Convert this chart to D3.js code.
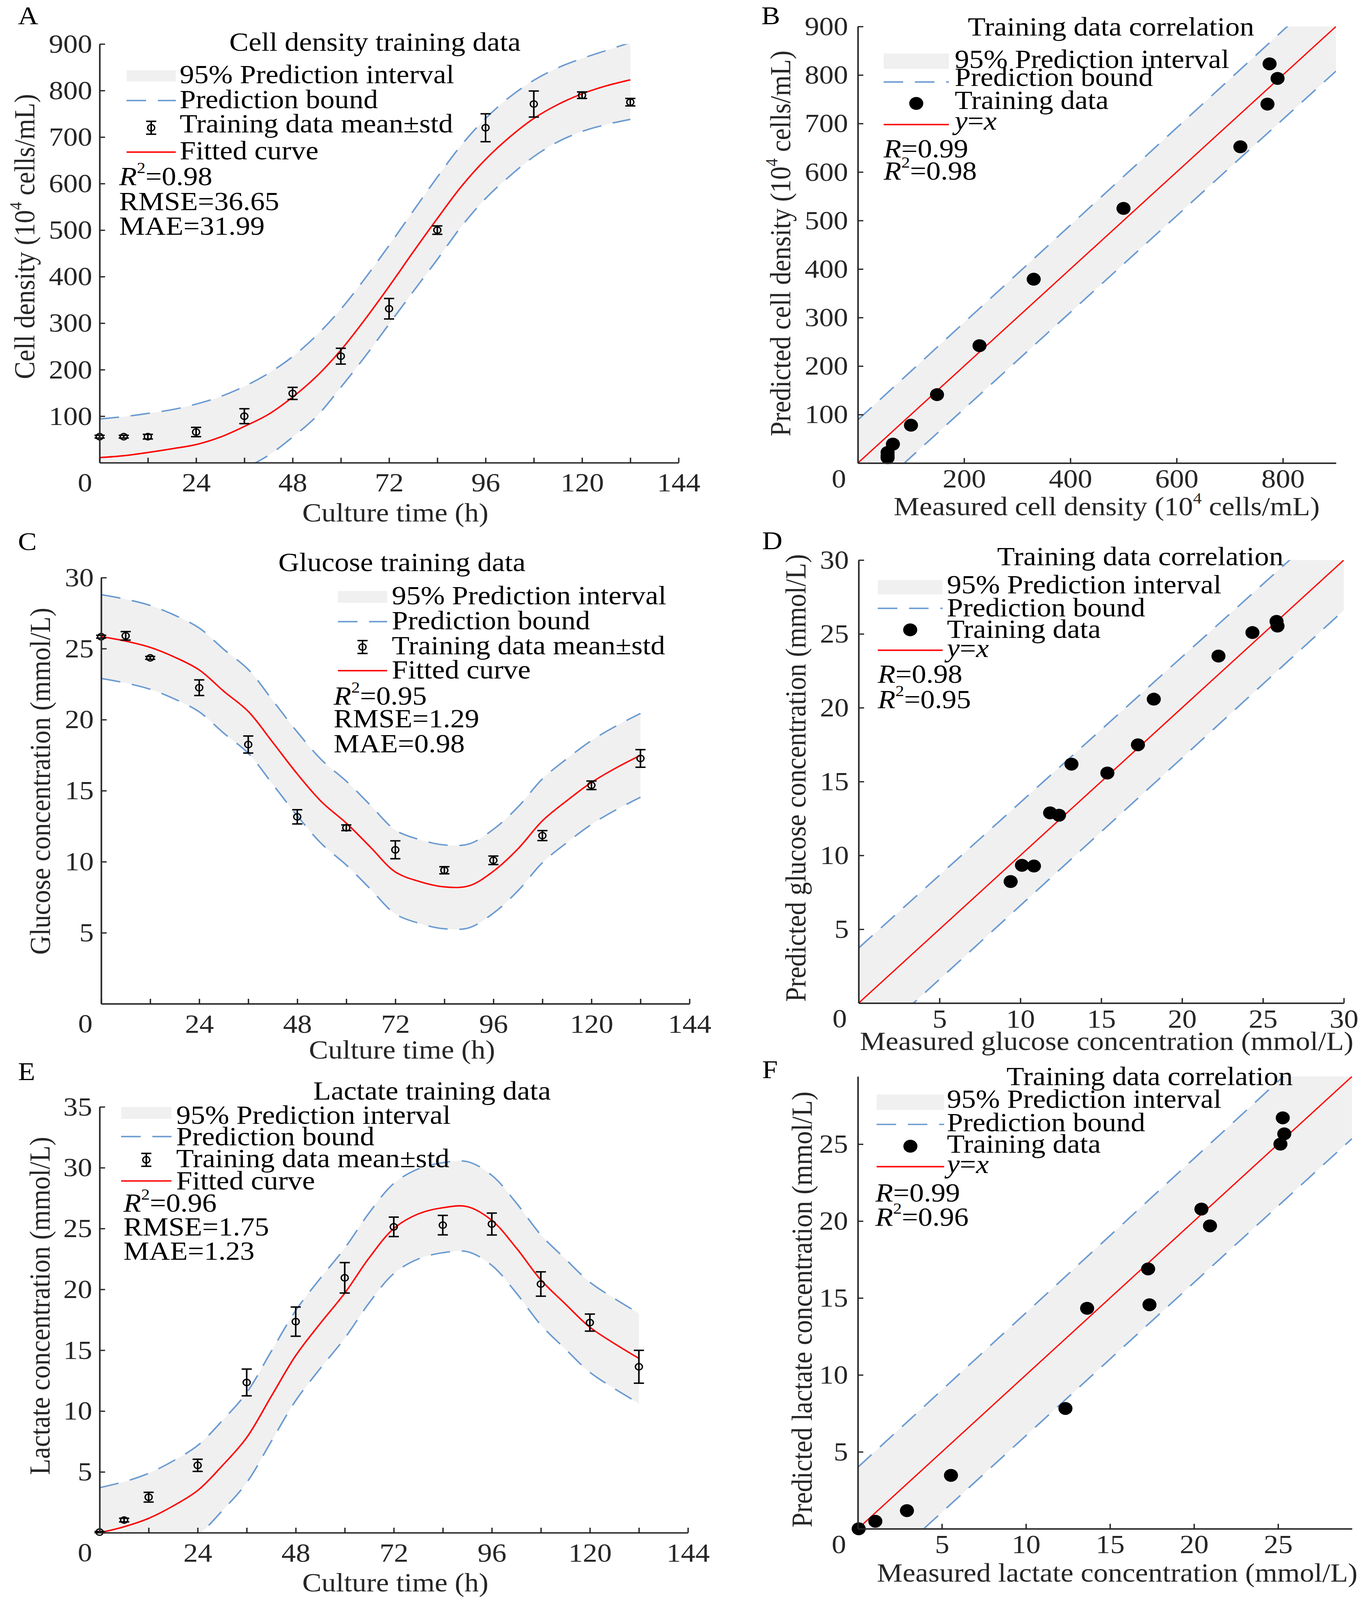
<!DOCTYPE html>
<html>
<head>
<meta charset="utf-8">
<script src="https://cdn.jsdelivr.net/npm/d3@7"></script>
<style>
  html, body { margin: 0; padding: 0; background: #fff; overflow: hidden; }
  svg { display: block; width: 100vw; height: 100vh; }
</style>
</head>
<body>
<svg id="fig" viewBox="0 0 3484 4471" preserveAspectRatio="none"></svg>
<script>
// ---------------------------------------------------------------
//  Data
// ---------------------------------------------------------------

const sampleHours = [0, 6, 12, 24, 36, 48, 60, 72, 84, 96, 108, 120, 132];
const curveHours = [0, 6, 12, 18, 24, 30, 36, 42, 48, 54, 60, 66, 72, 78, 84, 90, 96, 102, 108, 114, 120, 126, 132];

// Cell density (10^4 cells/mL)
const cellMean = [56, 56, 56, 66, 100, 149, 229, 331, 500, 720, 771, 790, 775];
const cellStd = [3, 3, 5, 10, 16, 13, 17, 22, 9, 30, 28, 7, 8];
const cellFit = [11, 15, 22, 30, 39, 55, 78, 104, 141, 186, 242, 308, 379, 453, 525, 594, 652, 700, 740, 770, 793, 810, 823];
const cellUpper = [94, 99, 106, 114, 126, 142, 164, 192, 228, 274, 330, 396, 467, 541, 614, 683, 740, 786, 822, 849, 869, 886, 903];
const cellLower = [-77, -72, -65, -56, -46, -32, -12, 16, 55, 100, 162, 228, 298, 368, 437, 508, 568, 616, 658, 690, 712, 727, 738];
const cellPred = [11, 15, 22, 39, 78, 141, 242, 379, 525, 652, 740, 793, 823];
const cellBandX = [0, 900];
const cellBandUpper = [89, 992];
const cellBandLower = [-87, 808];

// Glucose (mmol/L)
const glcMean = [25.84, 25.9, 24.35, 22.25, 18.25, 13.16, 12.39, 10.84, 9.4, 10.1, 11.84, 15.38, 17.27];
const glcStd = [0.1, 0.3, 0.1, 0.55, 0.6, 0.5, 0.2, 0.63, 0.25, 0.3, 0.35, 0.3, 0.62];
const glcFit = [25.85, 25.53, 25.09, 24.4, 23.5, 22.0, 20.58, 18.4, 16.18, 14.2, 12.72, 11.0, 9.28, 8.6, 8.23, 8.3, 9.33, 10.9, 12.88, 14.3, 15.58, 16.6, 17.49];
const glcUpper = [28.8, 28.48, 28.04, 27.35, 26.45, 24.95, 23.53, 21.35, 19.13, 17.15, 15.67, 13.95, 12.23, 11.55, 11.18, 11.25, 12.28, 13.85, 15.83, 17.25, 18.53, 19.55, 20.44];
const glcLower = [22.9, 22.58, 22.14, 21.45, 20.55, 19.05, 17.63, 15.45, 13.23, 11.25, 9.77, 8.05, 6.33, 5.65, 5.28, 5.35, 6.38, 7.95, 9.93, 11.35, 12.63, 13.65, 14.54];
const glcPred = [25.85, 25.53, 25.09, 23.5, 20.58, 16.18, 12.72, 9.28, 8.23, 9.33, 12.88, 15.58, 17.49];
const glcBandX = [0, 30];
const glcBandUpper = [3.73, 33.3];
const glcBandLower = [-3.39, 26.6];

// Lactate (mmol/L)
const lacMean = [0.05, 1.04, 2.92, 5.54, 12.35, 17.35, 20.95, 25.14, 25.28, 25.37, 20.44, 17.27, 13.64];
const lacStd = [0.05, 0.15, 0.4, 0.5, 1.1, 1.2, 1.25, 0.8, 0.8, 0.9, 1.0, 0.7, 1.35];
const lacFit = [0, 0.49, 1.18, 2.2, 3.47, 5.5, 7.82, 11.2, 14.56, 17.2, 19.69, 22.6, 25.0, 26.2, 26.71, 26.8, 25.67, 23.4, 20.78, 18.8, 16.89, 15.55, 14.33];
const lacUpper = [3.7, 4.19, 4.88, 5.9, 7.17, 9.2, 11.52, 14.9, 18.26, 20.9, 23.39, 26.3, 28.7, 29.9, 30.41, 30.5, 29.37, 27.1, 24.48, 22.5, 20.59, 19.25, 18.03];
const lacLower = [-3.7, -3.21, -2.52, -1.5, -0.23, 1.8, 4.12, 7.5, 10.86, 13.5, 15.99, 18.9, 21.3, 22.5, 23.01, 23.1, 21.97, 19.7, 17.08, 15.1, 13.19, 11.85, 10.63];
const lacPred = [0, 0.49, 1.18, 3.47, 7.82, 14.56, 19.69, 25.0, 26.71, 25.67, 20.78, 16.89, 14.33];
const lacBandX = [0, 29.4];
const lacBandUpper = [4.0, 33.5];
const lacBandLower = [-3.9, 25.36];

// Tick labels
const timeTicks = [0, 12, 24, 36, 48, 60, 72, 84, 96, 108, 120, 132, 144];
const timeLabels = [24, 48, 72, 96, 120, 144];

// ---------------------------------------------------------------
//  Styles
// ---------------------------------------------------------------

const FONT = '"Liberation Serif", "Times New Roman", serif';
const FS = 74;
const AXIS = "#262626";
const BAND = "#f0f0f0";
const BOUND = "#6b9bd1";
const RED = "#ff0000";
const DASH = "50,30";

const svg = d3.select("#fig").attr("font-family", FONT);

// Text made of parts: {t, i: italic, sup: superscript}
function richText(g, x, y, parts, opts = {}) {
    let t = g.append("text")
        .attr("x", x).attr("y", y)
        .attr("font-size", opts.size || FS)
        .attr("fill", opts.fill || "#000")
        .attr("text-anchor", opts.anchor || "start");
    if (opts.transform) t.attr("transform", opts.transform);
    let raised = false;
    parts.forEach(p => {
        let s = t.append("tspan").text(p.t);
        if (p.i) s.attr("font-style", "italic");
        if (p.sup) {
            s.attr("font-size", "0.6em").attr("dy", "-0.75em");
            raised = true;
        } else if (raised) {
            s.attr("dy", "0.45em");
            raised = false;
        }
    });
    return t;
}

function yLabel(g, cx, cy, parts) {
    richText(g, 0, 0, parts, { anchor: "middle", fill: AXIS,
        transform: `translate(${cx + 25},${cy}) rotate(-90)` });
}

function styleAxis(sel) {
    sel.attr("font-family", FONT).attr("font-size", FS);
    sel.select(".domain").attr("stroke", AXIS).attr("stroke-width", 4);
    sel.selectAll(".tick line").attr("stroke", AXIS).attr("stroke-width", 3.5);
    sel.selectAll(".tick text").attr("fill", AXIS);
}

// padX: tick-label baseline below the axis, padY: gap left of the axis
function drawAxes(g, p, x, y, xTicks, xFmt, yTicks, padX, padY) {
    g.append("g")
        .attr("transform", `translate(0,${p.bottom})`)
        .call(d3.axisBottom(x).tickValues(xTicks).tickFormat(xFmt)
            .tickSize(-14).tickSizeOuter(0).tickPadding(padX - 52))
        .call(styleAxis);
    g.append("g")
        .attr("transform", `translate(${p.left},0)`)
        .call(d3.axisLeft(y).tickValues(yTicks).tickFormat(d3.format("d"))
            .tickSize(-14).tickSizeOuter(0).tickPadding(padY))
        .call(styleAxis);
    g.append("text").attr("x", p.left - p.zeroGap).attr("y", p.bottom + padX)
        .attr("text-anchor", "end").attr("font-size", FS).attr("fill", AXIS).text("0");
}

function addClip(p) {
    let id = "clip" + p.letter;
    svg.append("clipPath").attr("id", id).append("rect")
        .attr("x", p.left).attr("y", p.top)
        .attr("width", p.right - p.left).attr("height", p.bottom - p.top);
    return `url(#${id})`;
}

function legendCommon(g, L, labels) {
    g.append("rect")
        .attr("x", L.sx0).attr("y", L.sy[0] - L.sh / 2)
        .attr("width", L.sx1 - L.sx0).attr("height", L.sh)
        .attr("fill", BAND);
    g.append("line")
        .attr("x1", L.sx0).attr("x2", L.sx1)
        .attr("y1", L.sy[1]).attr("y2", L.sy[1])
        .attr("stroke", BOUND).attr("stroke-width", 4).attr("stroke-dasharray", DASH);
    g.append("line")
        .attr("x1", L.sx0).attr("x2", L.sx1)
        .attr("y1", L.sy[3]).attr("y2", L.sy[3])
        .attr("stroke", RED).attr("stroke-width", 4);
    labels.forEach((parts, i) => richText(g, L.tx, L.ty[i], parts));
    return (L.sx0 + L.sx1) / 2;
}

function errorMarker(g, cx, cy, top, bot) {
    g.append("line").attr("x1", cx).attr("x2", cx).attr("y1", top).attr("y2", bot)
        .attr("stroke", "#000").attr("stroke-width", 4);
    [top, bot].forEach(v => g.append("line")
        .attr("x1", cx - 13).attr("x2", cx + 13).attr("y1", v).attr("y2", v)
        .attr("stroke", "#000").attr("stroke-width", 4));
    g.append("circle").attr("cx", cx).attr("cy", cy).attr("r", 9)
        .attr("fill", "none").attr("stroke", "#000").attr("stroke-width", 3.5);
}

// ---------------------------------------------------------------
//  Time-course panels (A, C, E)
// ---------------------------------------------------------------

function timePanel(p) {
    let x = d3.scaleLinear().domain([0, 144]).range([p.left, p.right]);
    let y = d3.scaleLinear().domain([0, p.yMax]).range([p.bottom, p.top]);
    let g = svg.append("g");
    let smooth = d3.curveCatmullRom.alpha(0.5);

    let rows = curveHours.map((h, i) => ({ h: h, fit: p.fit[i], lo: p.lower[i], hi: p.upper[i] }));
    let plot = g.append("g").attr("clip-path", addClip(p));

    plot.append("path").datum(rows)
        .attr("d", d3.area().x(d => x(d.h)).y0(d => y(d.lo)).y1(d => y(d.hi)).curve(smooth))
        .attr("fill", BAND);
    ["lo", "hi"].forEach(k => plot.append("path").datum(rows)
        .attr("d", d3.line().x(d => x(d.h)).y(d => y(d[k])).curve(smooth))
        .attr("fill", "none").attr("stroke", BOUND).attr("stroke-width", 4)
        .attr("stroke-dasharray", DASH));
    plot.append("path").datum(rows)
        .attr("d", d3.line().x(d => x(d.h)).y(d => y(d.fit)).curve(smooth))
        .attr("fill", "none").attr("stroke", RED).attr("stroke-width", 4);

    sampleHours.forEach((h, i) => {
        let m = p.mean[i], s = p.std[i];
        errorMarker(g, x(h), y(m), y(m + s), y(m - s));
    });

    drawAxes(g, p, x, y, timeTicks, d => timeLabels.includes(d) ? d : "",
        p.yTicks, 80, 19);

    richText(g, p.letterX, p.letterY, [{ t: p.letter }], { size: 72 });
    richText(g, p.title.x, p.title.y, [{ t: p.title.t }], { anchor: "middle" });
    richText(g, p.xlabel.x, p.xlabel.y, [{ t: "Culture time (h)" }], { anchor: "middle", fill: AXIS });
    yLabel(g, p.ylabel.x, p.ylabel.y, p.ylabel.parts);

    let L = p.legend;
    let cx = legendCommon(g, L, [
        [{ t: "95% Prediction interval" }],
        [{ t: "Prediction bound" }],
        [{ t: "Training data mean\u00b1std" }],
        [{ t: "Fitted curve" }]
    ]);
    errorMarker(g, cx, L.sy[2], L.sy[2] - 18, L.sy[2] + 18);

    p.stats.lines.forEach((parts, i) => richText(g, p.stats.x, p.stats.ys[i], parts));
}

// ---------------------------------------------------------------
//  Correlation panels (B, D, F)
// ---------------------------------------------------------------

function corrPanel(p) {
    let x = d3.scaleLinear().domain([0, p.max]).range([p.left, p.right]);
    let y = d3.scaleLinear().domain([0, p.max]).range([p.bottom, p.top]);
    let g = svg.append("g");
    let plot = g.append("g").attr("clip-path", addClip(p));

    let band = p.bandX.map((v, i) => ({ v: v, lo: p.bandLower[i], hi: p.bandUpper[i] }));
    plot.append("path").datum(band)
        .attr("d", d3.area().x(d => x(d.v)).y0(d => y(d.lo)).y1(d => y(d.hi)))
        .attr("fill", BAND);
    ["lo", "hi"].forEach(k => plot.append("path").datum(band)
        .attr("d", d3.line().x(d => x(d.v)).y(d => y(d[k])))
        .attr("fill", "none").attr("stroke", BOUND).attr("stroke-width", 4)
        .attr("stroke-dasharray", DASH));
    plot.append("path").datum(p.bandX)
        .attr("d", d3.line().x(d => x(d)).y(d => y(d)))
        .attr("fill", "none").attr("stroke", RED).attr("stroke-width", 3.5);

    g.selectAll("circle.pt").data(p.measured.map((m, i) => [m, p.pred[i]]))
        .join("circle").attr("class", "pt")
        .attr("cx", d => x(d[0])).attr("cy", d => y(d[1])).attr("r", 18)
        .attr("fill", "#000");

    drawAxes(g, p, x, y, p.xTicks, d3.format("d"), p.yTicks, 68, 25);

    richText(g, p.letterX, p.letterY, [{ t: p.letter }], { size: 72 });
    richText(g, p.xlabel.x, p.xlabel.y, p.xlabel.parts, { anchor: "middle", fill: AXIS });
    yLabel(g, p.ylabel.x, p.ylabel.y, p.ylabel.parts);

    let L = p.legend;
    let cx = legendCommon(g, L, [
        [{ t: "95% Prediction interval" }],
        [{ t: "Prediction bound" }],
        [{ t: "Training data" }],
        [{ t: "y", i: true }, { t: "=" }, { t: "x", i: true }]
    ]);
    g.append("circle").attr("cx", cx).attr("cy", L.sy[2]).attr("r", 18).attr("fill", "#000");

    p.stats.lines.forEach((parts, i) => richText(g, p.stats.x, p.stats.ys[i], parts));
    richText(g, p.title.x, p.title.y, [{ t: "Training data correlation" }], { anchor: "middle" });
}

// ---------------------------------------------------------------
//  Panels
// ---------------------------------------------------------------

const sup4 = [{ t: "10" }, { t: "4", sup: true }];

timePanel({
    letter: "A", letterX: 46, letterY: 68,
    left: 255, right: 1737, top: 123, bottom: 1293, zeroGap: 19,
    yMax: 900, yTicks: [100, 200, 300, 400, 500, 600, 700, 800, 900],
    mean: cellMean, std: cellStd, fit: cellFit, upper: cellUpper, lower: cellLower,
    title: { t: "Cell density training data", x: 960, y: 142 },
    legend: { sx0: 324, sx1: 450, sh: 31, sy: [212, 281, 357, 425], ty: [233, 302, 370, 445], tx: 460 },
    stats: { x: 305, ys: [517, 587, 656], lines: [
        [{ t: "R", i: true }, { t: "2", sup: true }, { t: "=0.98" }],
        [{ t: "RMSE=36.65" }], [{ t: "MAE=31.99" }]] },
    xlabel: { x: 1012, y: 1457 },
    ylabel: { x: 63, y: 661, parts: [{ t: "Cell density (" }, ...sup4, { t: " cells/mL)" }] }
});

timePanel({
    letter: "C", letterX: 46, letterY: 1537,
    left: 259, right: 1765, top: 1614, bottom: 2805, zeroGap: 22,
    yMax: 30, yTicks: [5, 10, 15, 20, 25, 30],
    mean: glcMean, std: glcStd, fit: glcFit, upper: glcUpper, lower: glcLower,
    title: { t: "Glucose training data", x: 1029, y: 1596 },
    legend: { sx0: 865, sx1: 991, sh: 33, sy: [1668, 1737, 1808, 1874], ty: [1689, 1758, 1828, 1896], tx: 1003 },
    stats: { x: 854, ys: [1969, 2033, 2102], lines: [
        [{ t: "R", i: true }, { t: "2", sup: true }, { t: "=0.95" }],
        [{ t: "RMSE=1.29" }], [{ t: "MAE=0.98" }]] },
    xlabel: { x: 1029, y: 2958 },
    ylabel: { x: 103, y: 2183, parts: [{ t: "Glucose concentration (mmol/L)" }] }
});

timePanel({
    letter: "E", letterX: 46, letterY: 3018,
    left: 255, right: 1761, top: 3093, bottom: 4283, zeroGap: 19,
    yMax: 35, yTicks: [5, 10, 15, 20, 25, 30, 35],
    mean: lacMean, std: lacStd, fit: lacFit, upper: lacUpper, lower: lacLower,
    title: { t: "Lactate training data", x: 1106, y: 3073 },
    legend: { sx0: 310, sx1: 439, sh: 33, sy: [3110, 3176, 3241, 3300], ty: [3140, 3200, 3262, 3324], tx: 451 },
    stats: { x: 316, ys: [3386, 3453, 3520], lines: [
        [{ t: "R", i: true }, { t: "2", sup: true }, { t: "=0.96" }],
        [{ t: "RMSE=1.75" }], [{ t: "MAE=1.23" }]] },
    xlabel: { x: 1012, y: 4447 },
    ylabel: { x: 102, y: 3649, parts: [{ t: "Lactate concentration (mmol/L)" }] }
});

corrPanel({
    letter: "B", letterX: 1949, letterY: 68,
    left: 2196, right: 3420, top: 74, bottom: 1294, max: 900, zeroGap: 30,
    xTicks: [200, 400, 600, 800], yTicks: [100, 200, 300, 400, 500, 600, 700, 800, 900],
    measured: cellMean, pred: cellPred,
    bandX: cellBandX, bandUpper: cellBandUpper, bandLower: cellBandLower,
    title: { x: 2844, y: 99 },
    legend: { sx0: 2262, sx1: 2429, sh: 43, sy: [171, 229, 289, 348], ty: [190, 240, 305, 362], tx: 2444 },
    stats: { x: 2262, ys: [440, 502], lines: [
        [{ t: "R", i: true }, { t: "=0.99" }],
        [{ t: "R", i: true }, { t: "2", sup: true }, { t: "=0.98" }]] },
    xlabel: { x: 2833, y: 1440, parts: [{ t: "Measured cell density (" }, ...sup4, { t: " cells/mL)" }] },
    ylabel: { x: 1998, y: 680, parts: [{ t: "Predicted cell density (" }, ...sup4, { t: " cells/mL)" }] }
});

corrPanel({
    letter: "D", letterX: 1951, letterY: 1535,
    left: 2198, right: 3440, top: 1565, bottom: 2803, max: 30, zeroGap: 30,
    xTicks: [5, 10, 15, 20, 25, 30], yTicks: [5, 10, 15, 20, 25, 30],
    measured: glcMean, pred: glcPred,
    bandX: glcBandX, bandUpper: glcBandUpper, bandLower: glcBandLower,
    title: { x: 2919, y: 1580 },
    legend: { sx0: 2247, sx1: 2413, sh: 40, sy: [1641, 1700, 1760, 1817], ty: [1658, 1722, 1782, 1836], tx: 2424 },
    stats: { x: 2247, ys: [1908, 1979], lines: [
        [{ t: "R", i: true }, { t: "=0.98" }],
        [{ t: "R", i: true }, { t: "2", sup: true }, { t: "=0.95" }]] },
    xlabel: { x: 2833, y: 2934, parts: [{ t: "Measured glucose concentration (mmol/L)" }] },
    ylabel: { x: 2037, y: 2174, parts: [{ t: "Predicted glucose concentration (mmol/L)" }] }
});

corrPanel({
    letter: "F", letterX: 1951, letterY: 3013,
    left: 2196, right: 3461, top: 3008, bottom: 4272, max: 29.4, zeroGap: 30,
    xTicks: [5, 10, 15, 20, 25], yTicks: [5, 10, 15, 20, 25],
    measured: lacMean, pred: lacPred,
    bandX: lacBandX, bandUpper: lacBandUpper, bandLower: lacBandLower,
    title: { x: 2943, y: 3032 },
    legend: { sx0: 2244, sx1: 2417, sh: 43, sy: [3080, 3142, 3203, 3260], ty: [3096, 3161, 3221, 3278], tx: 2424 },
    stats: { x: 2241, ys: [3358, 3425], lines: [
        [{ t: "R", i: true }, { t: "=0.99" }],
        [{ t: "R", i: true }, { t: "2", sup: true }, { t: "=0.96" }]] },
    xlabel: { x: 2860, y: 4420, parts: [{ t: "Measured lactate concentration (mmol/L)" }] },
    ylabel: { x: 2053, y: 3659, parts: [{ t: "Predicted lactate concentration (mmol/L)" }] }
});
</script>
</body>
</html>
